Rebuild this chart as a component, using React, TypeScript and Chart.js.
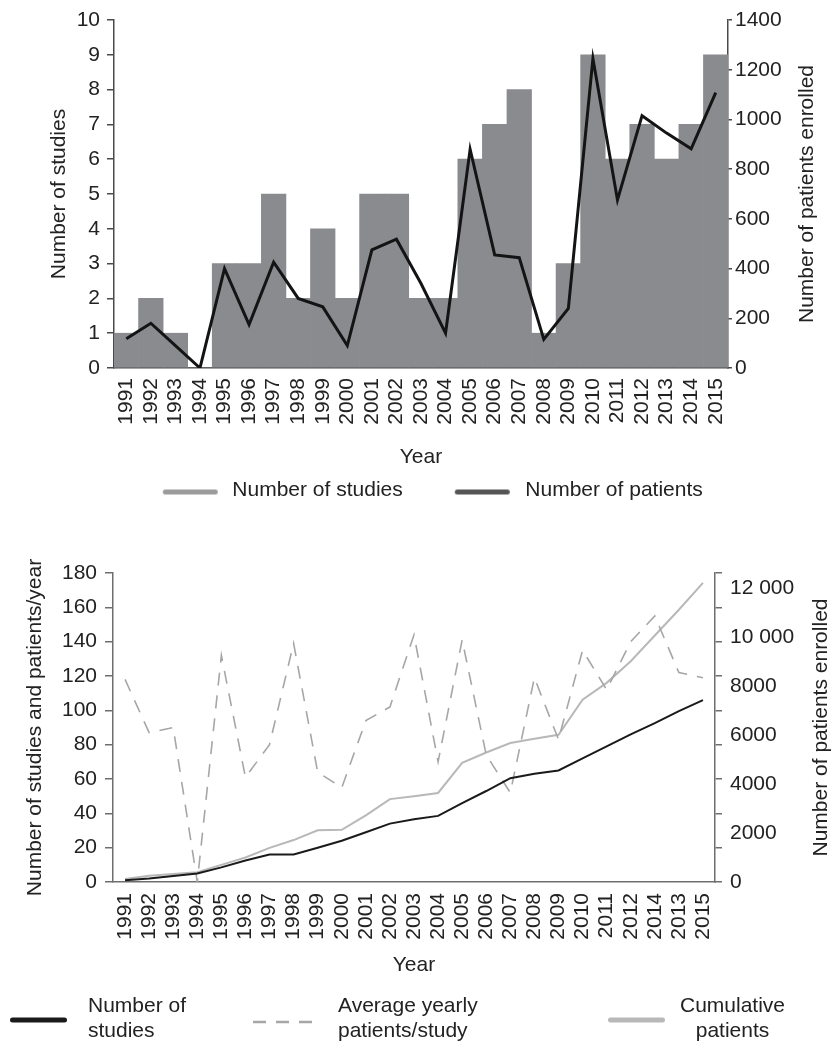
import React, { useEffect, useRef } from 'react';
import { Chart, registerables } from 'chart.js';

Chart.register(...registerables);

const FONT = '"Liberation Sans", Arial, Helvetica, sans-serif';
const TEXT = '#222222';

// ---------- Top chart data ----------
const yearsTop = ['1991', '1992', '1993', '1994', '1995', '1996', '1997', '1998', '1999', '2000', '2001', '2002', '2003', '2004', '2005', '2006', '2007', '2008', '2009', '2010', '2011', '2012', '2013', '2014', '2015'];
const studiesPerYear = [1, 2, 1, 0, 3, 3, 5, 2, 4, 2, 5, 5, 2, 2, 6, 7, 8, 1, 3, 9, 6, 7, 6, 7, 9];
const patientsPerYear = [118, 180, 90, 0, 400, 175, 426, 280, 246, 90, 475, 518, 340, 140, 880, 455, 444, 115, 240, 1245, 676, 1015, 945, 882, 1108];
const topLegendLabels = ['Number of studies', 'Number of patients'];
const topAxisTitles = ['Number of studies', 'Number of patients enrolled', 'Year'];

// ---------- Bottom chart data ----------
const yearsBottom = ['1991', '1992', '1993', '1994', '1995', '1996', '1997', '1998', '1999', '2000', '2001', '2002', '2003', '2004', '2005', '2006', '2007', '2008', '2009', '2010', '2011', '2012', '2014', '2013', '2015'];
const cumulativeStudies = [1, 2, 3.5, 5, 8.5, 12.5, 16, 16, 20, 24, 29, 34, 36.5, 38.5, 46, 53, 60.5, 63, 65, 72, 79, 86, 92.5, 99.5, 106];
const avgPatientsPerStudy = [118, 87, 90, 0, 132, 61, 80, 139, 64, 55, 94, 102, 144, 70, 141, 74, 52, 119, 83, 135, 112, 140, 155, 122, 119];
const cumulativePatients = [120, 250, 330, 400, 700, 1000, 1390, 1710, 2110, 2130, 2720, 3380, 3500, 3630, 4860, 5280, 5670, 5840, 6000, 7430, 8120, 9000, 10050, 11100, 12200];
const bottomRightTickValues = [0, 2000, 4000, 6000, 8000, 10000, 12000];
const bottomLegendLabels = [['Number of', 'studies'], ['Average yearly', 'patients/study'], ['Cumulative', 'patients']];
const bottomAxisTitles = ['Number of studies and patients/year', 'Number of patients enrolled', 'Year'];

Chart.defaults.font.family = FONT;
Chart.defaults.font.size = 21;
Chart.defaults.color = TEXT;

function lineSymbol(color: string, lw: number, x0: number, x1: number, dy: number) {
  const W = 120;
  const H = 24;
  const c = document.createElement('canvas');
  c.width = W;
  c.height = H;
  const g = c.getContext('2d')!;
  g.strokeStyle = color;
  g.lineWidth = lw;
  g.lineCap = 'round';
  g.beginPath();
  g.moveTo(W / 2 + x0, H / 2 + dy);
  g.lineTo(W / 2 + x1, H / 2 + dy);
  g.stroke();
  return c;
}

function makeRightTitle(text: string, x: number) {
  return {
    id: 'rightTitle',
    afterDraw(chart: any) {
      const { ctx, chartArea } = chart;
      ctx.save();
      ctx.translate(x, (chartArea.top + chartArea.bottom) / 2);
      ctx.rotate(-Math.PI / 2);
      ctx.font = `21px ${FONT}`;
      ctx.fillStyle = TEXT;
      ctx.textAlign = 'center';
      ctx.textBaseline = 'middle';
      ctx.fillText(text, 0, 0);
      ctx.restore();
    },
  };
}

type LegendItemDef = { ds: number; x0: number; x1: number; y: number; lw: number; dash?: number[]; tx: number; align: CanvasTextAlign };

function makeMultiLegend(items: LegendItemDef[], baseline: number, gap: number) {
  return {
    id: 'multiLegend',
    afterDraw(chart: any) {
      const ctx = chart.ctx;
      ctx.save();
      items.forEach((it, i) => {
        const ds = chart.data.datasets[it.ds];
        ctx.strokeStyle = ds.borderColor;
        ctx.lineWidth = it.lw;
        ctx.setLineDash(it.dash || []);
        ctx.lineCap = it.dash ? 'butt' : 'round';
        ctx.beginPath();
        ctx.moveTo(it.x0, it.y);
        ctx.lineTo(it.x1, it.y);
        ctx.stroke();
        ctx.setLineDash([]);
        ctx.font = `21px ${FONT}`;
        ctx.fillStyle = TEXT;
        ctx.textAlign = it.align;
        ctx.textBaseline = 'alphabetic';
        bottomLegendLabels[i].forEach((t, j) => ctx.fillText(t, it.tx, baseline + j * gap));
      });
      ctx.restore();
    },
  };
}

function topConfig(): any {
  const symStudies = lineSymbol('#9b9b9b', 5, -2.5, 47.5, 1.5);
  const symPatients = lineSymbol('#555555', 5, -3.5, 46.5, 1.5);
  return {
    type: 'bar',
    data: {
      labels: yearsTop,
      datasets: [
        {
          type: 'bar',
          label: topLegendLabels[0],
          data: studiesPerYear,
          yAxisID: 'y',
          backgroundColor: '#8a8b8f',
          borderWidth: 0,
          barPercentage: 1,
          categoryPercentage: 1,
          order: 1,
        },
        {
          type: 'line',
          label: topLegendLabels[1],
          data: patientsPerYear,
          yAxisID: 'y1',
          borderColor: '#141414',
          borderWidth: 3,
          pointRadius: 0,
          tension: 0,
          fill: false,
          order: 0,
        },
      ],
    },
    options: {
      responsive: false,
      animation: false,
      events: [],
      layout: { padding: { top: 20, left: 0, right: 0, bottom: 0 } },
      plugins: {
        tooltip: { enabled: false },
        legend: {
          display: true,
          position: 'bottom',
          align: 'center',
          labels: {
            usePointStyle: true,
            pointStyleWidth: 108.1,
            boxHeight: 21,
            padding: 4,
            color: TEXT,
            font: { size: 21, family: FONT },
            generateLabels: () => [
              { text: topLegendLabels[0], pointStyle: symStudies, fillStyle: '#9b9b9b', strokeStyle: '#9b9b9b', lineWidth: 0, hidden: false, datasetIndex: 0, fontColor: TEXT },
              { text: topLegendLabels[1] + '   ', pointStyle: symPatients, fillStyle: '#555555', strokeStyle: '#555555', lineWidth: 0, hidden: false, datasetIndex: 1, fontColor: TEXT },
            ],
          },
        },
      },
      scales: {
        x: {
          offset: true,
          grid: { display: false, drawTicks: false },
          border: { display: true, color: '#4a4a4a', width: 1.5 },
          ticks: { autoSkip: false, minRotation: 90, maxRotation: 90, padding: 10, color: TEXT, font: { size: 21 } },
          title: { display: true, text: topAxisTitles[2], color: TEXT, font: { size: 21 }, padding: { top: 0, bottom: 6.4 } },
          afterFit: (s: any) => { s.height = 108; },
        },
        y: {
          position: 'left',
          min: 0,
          max: 10,
          ticks: { stepSize: 1, padding: 7, color: TEXT, font: { size: 21 } },
          grid: { display: true, drawOnChartArea: false, drawTicks: true, tickLength: 7, color: '#4a4a4a', lineWidth: 1.5 },
          border: { display: true, color: '#4a4a4a', width: 1.5 },
          title: { display: true, text: topAxisTitles[0], color: TEXT, font: { size: 21 }, padding: { top: 46.4, bottom: 0 } },
          afterFit: (s: any) => { s.width = 114; },
        },
        y1: {
          position: 'right',
          min: 0,
          max: 1400,
          ticks: { stepSize: 200, padding: 3, color: TEXT, font: { size: 21 }, callback: (v: any) => String(v) },
          grid: { display: true, drawOnChartArea: false, drawTicks: true, tickLength: 4, color: '#4a4a4a', lineWidth: 1.5 },
          border: { display: true, color: '#4a4a4a', width: 1.5 },
          afterFit: (s: any) => { s.width = 106; },
        },
      },
    },
    plugins: [makeRightTitle(topAxisTitles[1], 807)],
  };
}

function formatThousands(v: number) {
  if (v >= 10000) {
    const th = Math.floor(v / 1000);
    const rest = String(v % 1000).padStart(3, '0');
    return `${th} ${rest}`;
  }
  return String(v);
}

function bottomConfig(): any {
  const legendItems: LegendItemDef[] = [
    { ds: 0, x0: 12.5, x1: 64.5, y: 509, lw: 5, tx: 88, align: 'left' },
    { ds: 1, x0: 253, x1: 317, y: 511, lw: 2.5, dash: [13, 10], tx: 338, align: 'left' },
    { ds: 2, x0: 610.5, x1: 662.5, y: 509, lw: 5, tx: 732.5, align: 'center' },
  ];
  return {
    type: 'line',
    data: {
      labels: yearsBottom,
      datasets: [
        {
          label: 'Number of studies',
          data: cumulativeStudies,
          yAxisID: 'y',
          borderColor: '#1a1a1a',
          borderWidth: 2,
          pointRadius: 0,
          tension: 0,
          fill: false,
        },
        {
          label: 'Average yearly patients/study',
          data: avgPatientsPerStudy,
          yAxisID: 'y',
          borderColor: '#a6a6a6',
          borderWidth: 1.6,
          borderDash: [13, 10],
          pointRadius: 0,
          tension: 0,
          fill: false,
        },
        {
          label: 'Cumulative patients',
          data: cumulativePatients,
          yAxisID: 'y2',
          borderColor: '#b8b8b8',
          borderWidth: 2,
          pointRadius: 0,
          tension: 0,
          fill: false,
        },
      ],
    },
    options: {
      responsive: false,
      animation: false,
      events: [],
      layout: { padding: { top: 62, left: 0, right: 0, bottom: 60 } },
      plugins: {
        tooltip: { enabled: false },
        legend: { display: false },
      },
      scales: {
        x: {
          offset: true,
          grid: { display: false, drawTicks: false },
          border: { display: true, color: '#6e6e6e', width: 1.5 },
          ticks: { autoSkip: false, minRotation: 90, maxRotation: 90, padding: 11, color: TEXT, font: { size: 21 } },
          title: { display: true, text: bottomAxisTitles[2], color: TEXT, font: { size: 21 }, padding: { top: 0, bottom: 4.4 } },
          afterFit: (s: any) => { s.height = 100; },
        },
        y: {
          position: 'left',
          min: 0,
          max: 180,
          ticks: { stepSize: 20, padding: 8, color: TEXT, font: { size: 21 } },
          grid: { display: true, drawOnChartArea: false, drawTicks: true, tickLength: 8, color: '#6e6e6e', lineWidth: 1.5 },
          border: { display: true, color: '#6e6e6e', width: 1.5 },
          title: { display: true, text: bottomAxisTitles[0], color: TEXT, font: { size: 21 }, padding: { top: 22.4, bottom: 0 } },
          afterFit: (s: any) => { s.width = 113; },
        },
        y1: {
          position: 'right',
          weight: 0,
          min: 0,
          max: 12600,
          ticks: { display: false, stepSize: 1400 },
          grid: { display: true, drawOnChartArea: false, drawTicks: true, tickLength: 7, color: '#6e6e6e', lineWidth: 1.5 },
          border: { display: true, color: '#6e6e6e', width: 1.5 },
          afterFit: (s: any) => { s.width = 7; },
        },
        y2: {
          position: 'right',
          weight: 1,
          min: 0,
          max: 12600,
          ticks: { padding: 8, color: TEXT, font: { size: 21 }, callback: (v: any) => formatThousands(Number(v)) },
          afterBuildTicks: (s: any) => { s.ticks = bottomRightTickValues.map((v) => ({ value: v })); },
          grid: { display: false, drawTicks: false },
          border: { display: false },
          afterFit: (s: any) => { s.width = 112; },
        },
      },
    },
    plugins: [makeRightTitle(bottomAxisTitles[1], 821), makeMultiLegend(legendItems, 501, 25)],
  };
}

function ChartCanvas({ makeConfig, width, height, top }: { makeConfig: () => any; width: number; height: number; top: number }) {
  const ref = useRef<HTMLCanvasElement | null>(null);
  useEffect(() => {
    if (!ref.current) return;
    const chart = new Chart(ref.current, makeConfig());
    return () => chart.destroy();
  }, []);
  return (
    <canvas
      ref={ref}
      width={width}
      height={height}
      style={{ position: 'absolute', left: 0, top, width, height, display: 'block' }}
    />
  );
}

export default function App() {
  return (
    <div style={{ position: 'fixed', left: 0, top: 0, width: 834, height: 1042, background: '#ffffff', overflow: 'hidden' }}>
      <ChartCanvas makeConfig={topConfig} width={834} height={511} top={0} />
      <ChartCanvas makeConfig={bottomConfig} width={834} height={531} top={511} />
    </div>
  );
}
